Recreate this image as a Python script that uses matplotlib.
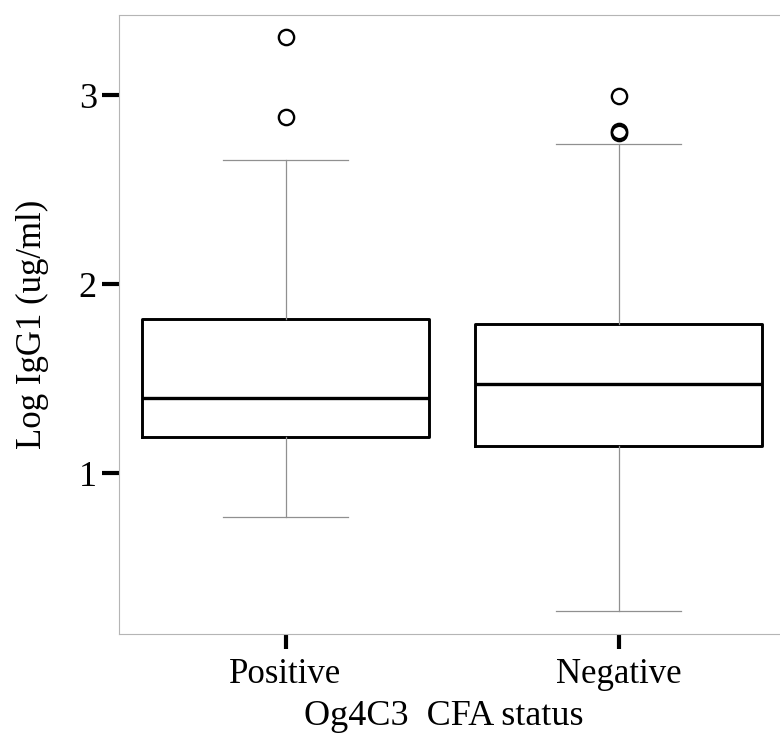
import matplotlib.pyplot as plt

# IgG1 levels (log ug/ml) by Og4C3 CFA status
grupos = ['Positive', 'Negative']
mediana = [1.40, 1.47]
q1 = [1.19, 1.143]
q3 = [1.818, 1.788]
bigode_inf = [0.769, 0.275]
bigode_sup = [2.656, 2.741]
outliers = [[3.309, 2.885], [2.995, 2.80, 2.808]]

plt.rcParams['font.family'] = ['Liberation Serif', 'DejaVu Serif']

fig = plt.figure(figsize=(7.8, 7.36), dpi=100)
ax = fig.add_axes([0.1526, 0.1386, 0.8538, 0.841])

stats = []
for i in range(len(grupos)):
    stats.append({'med': mediana[i], 'q1': q1[i], 'q3': q3[i],
                  'whislo': bigode_inf[i], 'whishi': bigode_sup[i],
                  'fliers': outliers[i], 'label': grupos[i]})

ax.bxp(stats, positions=[1, 2], widths=0.86, capwidths=0.378,
       boxprops=dict(color='black', linewidth=2.1),
       medianprops=dict(color='black', linewidth=2.4),
       whiskerprops=dict(color='#909090', linewidth=0.9),
       capprops=dict(color='#909090', linewidth=0.9),
       flierprops=dict(marker='o', markerfacecolor='none', markeredgecolor='black',
                       markersize=11, markeredgewidth=1.7))

ax.set_xlim(0.5, 2.5)
ax.set_ylim(0.151, 3.423)
ax.set_yticks([1, 2, 3])
ax.set_yticklabels(['1', '2', '3'], fontsize=26)
ax.set_xticks([1, 2])
ax.set_xticklabels(grupos, fontsize=25)
ax.tick_params(axis='y', length=12, width=3, pad=4)
ax.tick_params(axis='x', length=11, width=3, pad=6)

for lado in ['left', 'top', 'bottom', 'right']:
    ax.spines[lado].set_color('#b5b5b5')
    ax.spines[lado].set_linewidth(0.8)
    ax.spines[lado].set_linestyle((0, (1, 1)))

ax.set_xlabel('Og4C3  CFA status', fontsize=26)
ax.xaxis.set_label_coords(0.488, -0.106)
ax.set_ylabel('Log IgG1 (ug/ml)', fontsize=25)
ax.yaxis.set_label_coords(-0.105, 0.5)

plt.savefig('out.png', dpi=100)
